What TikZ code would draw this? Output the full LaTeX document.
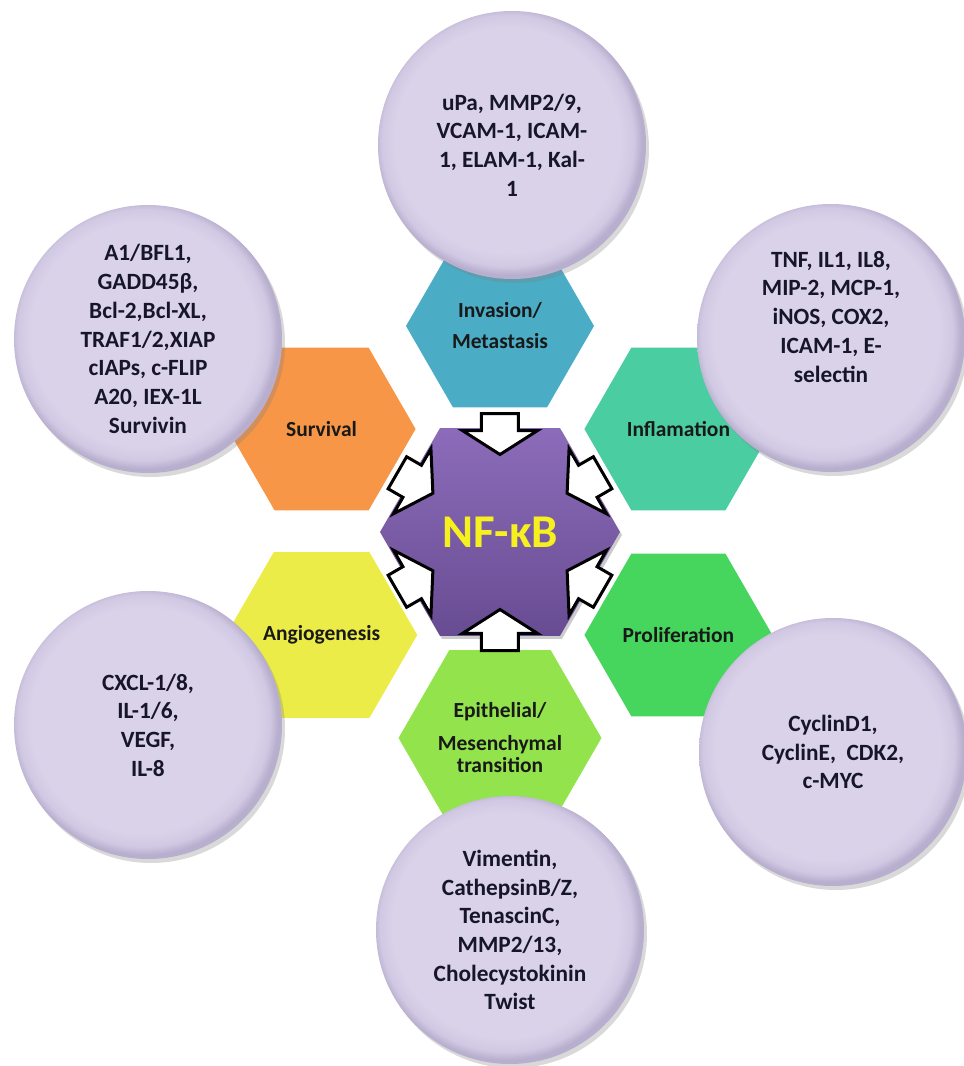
\documentclass[tikz,border=0pt]{standalone}
\usepackage{fontspec}
\setmainfont{Carlito}
\usetikzlibrary{shapes.geometric,shapes.arrows,shadows}

\definecolor{lav}{RGB}{217,210,233}
\definecolor{lavrim}{RGB}{209,201,227}
\definecolor{lavedge}{RGB}{184,174,206}
\definecolor{nftop}{RGB}{140,108,186}
\definecolor{nfbot}{RGB}{104,76,146}
\definecolor{nfyellow}{RGB}{246,240,30}
\definecolor{genetext}{RGB}{22,22,40}
\definecolor{cinv}{RGB}{75,172,198}
\definecolor{cinfl}{RGB}{74,205,160}
\definecolor{cprol}{RGB}{70,214,93}
\definecolor{cemt}{RGB}{146,227,76}
\definecolor{cangio}{RGB}{236,236,72}
\definecolor{csurv}{RGB}{247,150,70}

\pgfdeclareradialshading{lavbevel}{\pgfpoint{-1.5bp}{1.5bp}}{color(0bp)=(lav);
  color(21bp)=(lav); color(23.5bp)=(lavrim); color(25bp)=(lavedge);
  color(50bp)=(lavedge)}

\tikzset{
  hx_out/.style = {regular polygon, regular polygon sides=6,
    minimum size=188pt, inner sep=0pt, align=center, text=black!90,
    font=\fontsize{21.5}{26}\selectfont\bfseries},% hexagone de fonction
  hx_core/.style = {regular polygon, regular polygon sides=6,
    minimum size=240pt, inner sep=0pt, top color=nftop, bottom color=nfbot,
    drop shadow={shadow xshift=2pt, shadow yshift=-3pt, opacity=0.4},
    text=nfyellow, font=\fontsize{47}{50}\selectfont\bfseries},% hexagone central
  crc_gene/.style = {circle, minimum size=268pt, inner sep=0pt,
    align=center, shading=lavbevel, text=genetext,
    drop shadow={shadow xshift=3pt, shadow yshift=-4pt, opacity=0.3},
    font=\fontsize{23.3}{28.7}\selectfont\bfseries},% cercle des genes
  arr_in/.style = {single arrow, draw=black, fill=white, line width=3pt,
    minimum height=41pt, minimum width=72pt, inner xsep=0pt, inner ysep=17pt,
    single arrow head extend=19pt, single arrow tip angle=115,
    single arrow head indent=0pt}% fleche vers le centre
}

\begin{document}
\begin{tikzpicture}[x=1pt,y=1pt]
\useasboundingbox (-500,-534) rectangle (464,532);
% hexagones autour du centre
\node [hx_out, fill=cinv] (inv) at (90:206) {Invasion/\\[5pt]Metastasis};
\node [hx_out, fill=cinfl] (infl) at (30:206) {Inflamation};
\node [hx_out, fill=cprol] (prol) at (-30:206) {Proliferation};
\node [hx_out, fill=cemt] (emt) at (-90:206)
  {Epithelial/\\[7pt]Mesenchymal\\[-4pt]transition};
\node [hx_out, fill=cangio] (angio) at (210:206) {Angiogenesis};
\node [hx_out, fill=csurv] (surv) at (150:206) {Survival};
% cercles des genes cibles
\node [crc_gene] (g_inv) at (12,387)
  {uPa, MMP2/9,\\VCAM-1, ICAM-\\1, ELAM-1, Kal-\\1};
\node [crc_gene] (g_surv) at (-352,193)
  {A1/BFL1,\\GADD45β,\\Bcl-2,Bcl-XL,\\TRAF1/2,XIAP\\cIAPs, c-FLIP\\A20, IEX-1L\\Survivin};
\node [crc_gene] (g_infl) at (331,194)
  {TNF, IL1, IL8,\\MIP-2, MCP-1,\\iNOS, COX2,\\ICAM-1, E-\\selectin\\[14pt]};
\node [crc_gene] (g_angio) at (-352,-193) {CXCL-1/8,\\IL-1/6,\\VEGF,\\IL-8};
\node [crc_gene] (g_prol) at (333,-220) {CyclinD1,\\CyclinE,\ \ CDK2,\\c-MYC};
\node [crc_gene] (g_emt) at (10,-398)
  {Vimentin,\\CathepsinB/Z,\\TenascinC,\\MMP2/13,\\Cholecystokinin\\Twist};
% centre
\node [hx_core] (nfkb) at (0,0) {NF-κB};
\foreach \a in {30,90,...,330}
  \node [arr_in, rotate=\a+180, anchor=tail] (in\a) at ([shift={(\a:120)}]nfkb.center) {};
\end{tikzpicture}
\end{document}
